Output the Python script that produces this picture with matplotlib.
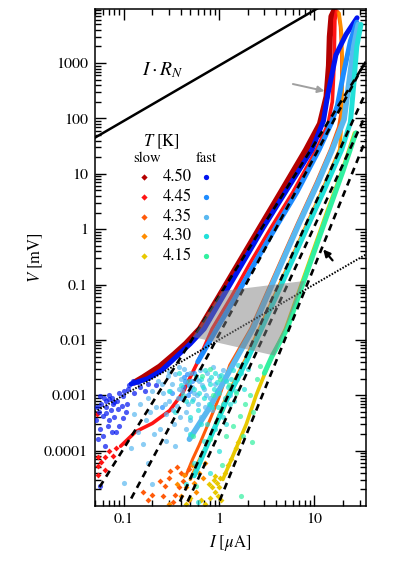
import matplotlib
matplotlib.use("Agg")
import matplotlib.pyplot as plt
from matplotlib.ticker import FixedLocator, FixedFormatter, LogLocator, NullFormatter
from matplotlib.patches import Polygon

plt.rcParams.update({
    "font.family": "STIXGeneral",
    "mathtext.fontset": "stix",
    "font.size": 11,
    "axes.linewidth": 1.1,
})

# ---------------------------------------------------------------------------
# DATA  (I in uA, V in mV)
# ---------------------------------------------------------------------------
TEMPS = ["4.50", "4.45", "4.35", "4.30", "4.15"]
SLOW_COLORS = ["#b40000", "#ff1414", "#ff5a0a", "#ff8c00", "#e8c800"]
FAST_COLORS = ["#0014f0", "#1e8cff", "#5ab8f0", "#22e0d8", "#32f0a0"]

# slow sweeps (diamonds): dense part of the curve
slow450_I = [0.13, 0.16, 0.24, 0.34, 0.45, 0.63, 1.0, 1.6, 2.67, 4.5, 8.2, 11.5, 13.5, 14.3, 14.6, 15.2, 16.2]
slow450_V = [0.0017, 0.0021, 0.0033, 0.0055, 0.0085, 0.0158, 0.06, 0.235, 1.04, 4.7, 27, 80, 250, 900, 3000, 7000, 8800]

slow445_I = [0.093, 0.134, 0.20, 0.305, 0.417, 0.53, 0.60, 0.85, 1.35, 2.1, 3.5, 6.0, 10.6, 14.0, 15.5, 16.0, 16.3, 16.5, 17.2]
slow445_V = [1.2e-4, 2.2e-4, 3.1e-4, 5.3e-4, 1.1e-3, 2.6e-3, 0.004, 0.0158, 0.06, 0.235, 1.04, 4.7, 27.6, 80, 200, 600, 2000, 6000, 8800]

slow435_I = [0.45, 0.53, 0.62, 0.80, 1.0, 1.3, 2.15, 4.3, 6.7, 10.5, 14.8, 18.0, 19.0, 19.4, 19.4, 18.8, 17.8]
slow435_V = [3.5e-5, 7e-5, 1.25e-4, 3.5e-4, 9e-4, 0.0035, 0.0158, 0.234, 1.3, 7, 27.6, 70, 120, 400, 1500, 4500, 8500]

slow430_I = [0.50, 0.65, 0.80, 1.15, 1.9, 2.65, 5.4, 8.1, 12.4, 18.5, 19.5, 19.7, 19.8, 19.3, 18.3]
slow430_V = [3e-5, 8e-5, 1.6e-4, 8e-4, 0.0045, 0.0158, 0.234, 1.1, 5.5, 27.6, 80, 300, 1200, 4000, 8000]

slow415_I = [1.1, 1.4, 1.94, 2.46, 3.4, 5.0, 8.7, 13.5, 19.5, 26.5]
slow415_V = [3e-5, 8e-5, 3e-4, 1e-3, 4e-3, 0.0158, 0.234, 2.0, 11, 55]

# slow sweeps: scattered points near the noise floor
slow445_sI = [0.0537, 0.0537, 0.0537, 0.064, 0.077, 0.064, 0.058, 0.052, 0.07, 0.083]
slow445_sV = [7.8e-5, 5.2e-5, 3.6e-5, 7.8e-5, 8e-5, 4.5e-5, 6.3e-5, 4.5e-4, 1e-4, 1.1e-4]

slow435_sI = [0.16, 0.18, 0.20, 0.257, 0.27, 0.30, 0.33, 0.35, 0.38, 0.42, 0.49, 0.24, 0.31, 0.36, 0.40]
slow435_sV = [1.8e-5, 1.3e-5, 1.6e-5, 1.5e-5, 2.3e-5, 3.2e-5, 1.2e-5, 1.6e-5, 2.2e-5, 2.8e-5, 4.7e-5, 2.8e-5, 4.2e-5, 5e-5, 4e-5]

slow430_sI = [0.30, 0.36, 0.40, 0.45, 0.48, 0.55, 0.58, 0.62, 0.68, 0.72, 0.43, 0.52]
slow430_sV = [1.1e-5, 2.5e-5, 1.5e-5, 2.2e-5, 1.3e-5, 2.6e-5, 1.8e-5, 4e-5, 3.2e-5, 6e-5, 3.6e-5, 5.5e-5]

slow415_sI = [0.65, 0.72, 0.85, 0.88, 0.90, 0.92, 0.95, 0.97, 1.0, 1.02, 1.05, 0.80, 0.78, 1.15, 1.25, 1.35, 0.45, 0.50, 1.5, 1.6]
slow415_sV = [1.3e-5, 1.1e-5, 2.2e-5, 3e-5, 1.8e-5, 3.5e-5, 2.6e-5, 1.5e-5, 2.2e-5, 3.2e-5, 1.3e-5, 1.4e-5, 2.5e-5, 4e-5, 5.5e-5, 7e-5, 1.1e-5, 1.4e-5, 1.1e-4, 1.4e-4]

# fast sweeps (circles): dense part of the curve
fast450_I = [0.12, 0.18, 0.25, 0.35, 0.50, 0.70, 1.1, 1.75, 2.9, 5.0, 9.5, 12.5, 13.9, 16.9, 21.6, 28.2]
fast450_V = [0.0016, 0.002, 0.0028, 0.0048, 0.0085, 0.0158, 0.06, 0.235, 1.04, 4.7, 27.6, 90, 270, 1400, 3300, 6600]

fast445_I = [0.60, 0.95, 1.5, 2.35, 3.9, 6.6, 11.3, 15.0, 17.5, 20.5, 24.0, 28.0]
fast445_V = [0.004, 0.0158, 0.06, 0.235, 1.04, 4.7, 27.6, 80, 170, 700, 2500, 5500]

fast435_I = [0.49, 0.80, 1.3, 2.27, 3.4, 4.5, 7.0, 11.0, 15.5, 20.6, 23.0, 26.0, 29.0]
fast435_V = [1.6e-4, 6e-4, 0.0028, 0.0158, 0.078, 0.234, 1.3, 7, 27.6, 96, 400, 2000, 5000]

fast430_I = [0.55, 0.80, 1.2, 2.0, 2.8, 4.0, 5.66, 8.5, 13.0, 19.5, 24.0, 26.0, 28.0, 31.0]
fast430_V = [3.5e-5, 1.6e-4, 8e-4, 0.0045, 0.0158, 0.062, 0.234, 1.1, 5.5, 27.6, 85, 400, 2000, 5000]

fast415_I = [3.0, 3.6, 5.2, 9.0, 14.0, 20.0, 27.4]
fast415_V = [0.0025, 0.005, 0.0158, 0.234, 2.0, 11, 55]

# fast sweeps: scattered points near the noise floor
fast450_sI = [0.056, 0.065, 0.077, 0.073, 0.060, 0.0515, 0.056, 0.068, 0.060, 0.063, 0.083, 0.098, 0.087,
              0.108, 0.098, 0.125, 0.14, 0.166, 0.218, 0.056, 0.054, 0.052, 0.07, 0.09, 0.11, 0.08,
              0.058, 0.062, 0.066, 0.071, 0.075, 0.080, 0.085, 0.095, 0.10, 0.115, 0.105, 0.13, 0.15,
              0.18, 0.055, 0.066, 0.07, 0.075, 0.09]
fast450_sV = [9.5e-4, 8e-4, 7e-4, 5.3e-4, 4.3e-4, 3.5e-4, 2.5e-4, 2.8e-4, 1.8e-4, 1.2e-4, 2.2e-4, 3.8e-4, 5.7e-4,
              7e-4, 9.8e-4, 1.8e-3, 1.75e-3, 1.2e-3, 1.5e-3, 2.3e-5, 1.65e-4, 6e-4, 1e-3, 1.1e-3, 1.3e-3, 4e-4,
              7e-4, 9e-4, 6e-4, 8.5e-4, 9e-4, 7.5e-4, 8e-4, 6.5e-4, 1.2e-3, 1.5e-3, 5e-4, 1.1e-3, 1.4e-3,
              1.6e-3, 5e-4, 4.7e-4, 3.5e-4, 2.2e-4, 2.8e-4]

fast445_sI = [0.40, 0.42, 0.44, 0.46, 0.48, 0.50, 0.52, 0.55, 0.47, 0.43, 0.25, 0.32]
fast445_sV = [9e-4, 1.4e-3, 1.8e-3, 2.4e-3, 1.5e-3, 1.2e-3, 1.8e-3, 2.5e-3, 1e-3, 2.1e-3, 6e-4, 1.1e-3]

fast435_sI = [0.10, 0.12, 0.13, 0.15, 0.17, 0.18, 0.20, 0.22, 0.24, 0.26, 0.28, 0.30, 0.32, 0.34, 0.36, 0.38,
              0.40, 0.42, 0.45, 0.48, 0.50, 0.55, 0.60, 0.62, 0.70, 0.75, 0.80, 0.90, 1.0, 0.28, 0.45, 0.65,
              0.23, 0.50, 0.85, 0.14, 0.16, 0.19, 0.21, 0.25, 0.27, 0.29, 0.31, 0.33, 0.35, 0.37, 0.39,
              0.41, 0.44, 0.47, 0.52, 0.57, 0.59, 0.66, 0.72, 0.78, 0.95, 1.1, 0.18, 0.35, 0.20,
              0.43, 0.54, 0.64, 0.74, 0.86, 1.2, 1.3, 0.30, 0.38]
fast435_sV = [2.6e-5, 1.1e-4, 4.5e-4, 7e-4, 3.5e-4, 9e-4, 1.2e-3, 6e-4, 2.5e-4, 1.1e-3, 4.5e-4, 8e-4, 1.6e-3,
              3e-4, 6.5e-4, 1.3e-3, 2e-3, 9e-4, 5e-4, 1.5e-3, 2.5e-3, 1.1e-3, 7e-4, 1.8e-3, 1.3e-3, 2.5e-3,
              9e-4, 1.6e-3, 2.2e-3, 1.5e-4, 2.5e-4, 4e-4, 1.8e-3, 3.5e-4, 5.5e-4, 2.2e-4, 1.3e-4, 5e-4,
              2e-4, 1.6e-3, 7e-4, 2.2e-3, 1.2e-3, 5.5e-4, 2.4e-3, 9e-4, 4e-4, 1.2e-3, 1.7e-3, 7e-4, 1.4e-3,
              2e-3, 1e-3, 1.5e-3, 6e-4, 1.9e-3, 1.2e-3, 2.8e-3, 6e-5, 1.2e-4, 2.5e-5,
              3e-3, 8.5e-4, 2.8e-3, 1e-3, 3.2e-3, 1.9e-3, 1e-3, 2.6e-3, 3.2e-3]

fast430_sI = [0.30, 0.35, 0.40, 0.45, 0.50, 0.55, 0.60, 0.65, 0.70, 0.75, 0.80, 0.85, 0.90, 1.0, 1.1, 1.2,
              1.3, 1.4, 1.5, 0.55, 0.70, 0.90, 0.45, 0.60, 0.80, 1.0, 1.6, 0.38, 0.42, 0.48, 0.52, 0.58,
              0.62, 0.68, 0.72, 0.78, 0.82, 0.88, 0.95, 1.05, 1.15, 1.25, 1.35, 1.45, 1.7, 0.50, 0.65, 1.2,
              1.55, 1.85, 2.0, 0.97, 1.1]
fast430_sV = [1.2e-3, 5e-4, 1.5e-3, 8e-4, 2e-4, 1.3e-3, 5.5e-4, 2e-3, 9e-4, 3e-4, 1.6e-3, 6e-4, 2.5e-3, 1.1e-3,
              4e-4, 1.8e-3, 7e-4, 2.8e-3, 1.2e-3, 6e-5, 1.5e-4, 2.5e-4, 2.5e-5, 1.2e-5, 4e-5, 1e-4, 3.5e-3,
              2.5e-3, 1e-3, 1.8e-3, 8e-4, 2.2e-3, 1.1e-3, 1.4e-3, 2.8e-3, 7e-4, 2.1e-3, 1.3e-3, 1.7e-3,
              2.3e-3, 9e-4, 1.4e-3, 2e-3, 8e-4, 2.5e-3, 4e-4, 3e-4, 3e-4,
              2e-3, 1.3e-3, 3e-3, 6e-4, 7e-4]

fast415_sI = [0.67, 0.86, 1.09, 1.4, 1.77, 2.1, 2.5, 2.67, 2.25, 1.72, 0.58, 0.53, 0.80, 0.94, 1.2, 1.29,
              1.02, 0.80, 1.65, 1.09, 1.9, 2.3, 1.5]
fast415_sV = [2.2e-3, 1e-3, 5.7e-4, 2.8e-4, 1.8e-4, 1e-3, 2e-3, 3.4e-3, 1.4e-4, 1.5e-5, 2.3e-5, 1.8e-4, 1.6e-4,
              3.3e-4, 1.8e-4, 1.5e-3, 2e-3, 3e-3, 4.3e-4, 5.4e-5, 7e-4, 5e-4, 1.1e-3]

# power-law fits (dashed), one per fast sweep: endpoints (I, V)
fit_I = [[0.056, 34.9], [0.12, 34.9], [0.39, 34.9], [0.47, 34.9], [1.02, 34.9]]
fit_V = [[2.2e-5, 1060], [1.36e-5, 1110], [1.2e-5, 300], [1.2e-5, 118], [1.25e-5, 42]]

# normal-state line I*R_N and low-bias ohmic line
rn_I, rn_V = [0.05, 35.0], [45.0, 31500.0]
ohm_I, ohm_V = [0.05, 35.0], [5e-4, 0.35]

# shaded region
shade_I = [1.07, 7.89, 3.83, 0.53]
shade_V = [0.076, 0.116, 0.0052, 0.0113]

slow_curves = [(slow450_I, slow450_V, 4.4), (slow445_I, slow445_V, 2.6), (slow435_I, slow435_V, 2.2),
               (slow430_I, slow430_V, 2.4), (slow415_I, slow415_V, 2.6)]
slow_scatter = [([], []), (slow445_sI, slow445_sV), (slow435_sI, slow435_sV),
                (slow430_sI, slow430_sV), (slow415_sI, slow415_sV)]
fast_curves = [(fast450_I, fast450_V, 3.6), (fast445_I, fast445_V, 3.6), (fast435_I, fast435_V, 4.0),
               (fast430_I, fast430_V, 3.6), (fast415_I, fast415_V, 3.6)]
fast_scatter = [(fast450_sI, fast450_sV), (fast445_sI, fast445_sV), (fast435_sI, fast435_sV),
                (fast430_sI, fast430_sV), (fast415_sI, fast415_sV)]

# ---------------------------------------------------------------------------
# PLOT
# ---------------------------------------------------------------------------
fig = plt.figure(figsize=(3.99, 5.64), dpi=100)
ax = fig.add_axes([0.238, 0.103, 0.679, 0.881])
ax.set_xscale("log")
ax.set_yscale("log")

for k in range(5):
    sI, sV = slow_scatter[k]
    ax.plot(sI, sV, "D", ms=3.0, color=SLOW_COLORS[k], mec="none", zorder=2)
    cI, cV, lw = slow_curves[k]
    ax.plot(cI, cV, "-", lw=lw, color=SLOW_COLORS[k], solid_capstyle="round",
            solid_joinstyle="round", zorder=2)

for k in range(5):
    sI, sV = fast_scatter[k]
    ax.plot(sI, sV, "o", ms=3.7, color=FAST_COLORS[k], mec="none", alpha=0.7, zorder=3)
    cI, cV, lw = fast_curves[k]
    ax.plot(cI, cV, "-", lw=lw, color=FAST_COLORS[k], solid_capstyle="round",
            solid_joinstyle="round", zorder=3)

for fI, fV in zip(fit_I, fit_V):
    ax.plot(fI, fV, color="black", lw=1.9, dashes=(2.6, 2.0), zorder=4)

ax.plot(rn_I, rn_V, color="black", lw=1.8, zorder=4)
ax.plot(ohm_I, ohm_V, color="black", lw=1.4, ls=(0, (0.8, 0.8)), zorder=4)

ax.add_patch(Polygon(list(zip(shade_I, shade_V)), closed=True, facecolor="0.5",
                     edgecolor="none", alpha=0.5, zorder=5))

ax.annotate("", xy=(13.7, 306), xytext=(5.6, 430),
            arrowprops=dict(arrowstyle="-|>", color="#a0a0a0", lw=1.4,
                            mutation_scale=10), zorder=6)
ax.annotate("", xy=(11.9, 0.47), xytext=(16.3, 0.25),
            arrowprops=dict(arrowstyle="-|>", color="black", lw=1.6,
                            mutation_scale=10), zorder=6)

ax.text(0.252, 0.877, r"$I \cdot R_N$", transform=ax.transAxes, ha="center",
        va="center", fontsize=14)

# legend block
ax.text(0.247, 0.733, r"$T$ [K]", transform=ax.transAxes, ha="center", va="center", fontsize=12)
ax.text(0.192, 0.700, "slow", transform=ax.transAxes, ha="center", va="center", fontsize=10.5)
ax.text(0.410, 0.700, "fast", transform=ax.transAxes, ha="center", va="center", fontsize=10.5)
rows_y = [0.662, 0.622, 0.582, 0.543, 0.503]
for k in range(5):
    ax.plot([0.181], [rows_y[k]], "D", ms=3.2, color=SLOW_COLORS[k], mec="none",
            transform=ax.transAxes)
    ax.plot([0.410], [rows_y[k]], "o", ms=3.8, color=FAST_COLORS[k], mec="none",
            transform=ax.transAxes)
    ax.text(0.303, rows_y[k], TEMPS[k], transform=ax.transAxes, ha="center",
            va="center", fontsize=12)

ax.set_xlim(0.05, 34.9)
ax.set_ylim(1e-5, 9500)

ax.xaxis.set_major_locator(FixedLocator([0.1, 1, 10]))
ax.xaxis.set_major_formatter(FixedFormatter(["0.1", "1", "10"]))
ax.yaxis.set_major_locator(FixedLocator([1e-4, 1e-3, 1e-2, 1e-1, 1, 10, 100, 1000]))
ax.yaxis.set_major_formatter(FixedFormatter(["0.0001", "0.001", "0.01", "0.1", "1", "10", "100", "1000"]))
ax.xaxis.set_minor_locator(LogLocator(base=10, subs=range(2, 10), numticks=20))
ax.yaxis.set_minor_locator(LogLocator(base=10, subs=range(2, 10), numticks=20))
ax.xaxis.set_minor_formatter(NullFormatter())
ax.yaxis.set_minor_formatter(NullFormatter())
ax.tick_params(which="both", direction="in", top=True, right=True, labelsize=11.5, width=1.0)
ax.tick_params(which="major", length=8, pad=5)
ax.tick_params(which="minor", length=4.5)

ax.set_xlabel(r"$I$ [$\mu$A]", fontsize=12, labelpad=5)
ax.set_ylabel(r"$V$ [mV]", fontsize=12)
ax.yaxis.set_label_coords(-0.185, 0.5)

fig.savefig("out.png", dpi=100)
